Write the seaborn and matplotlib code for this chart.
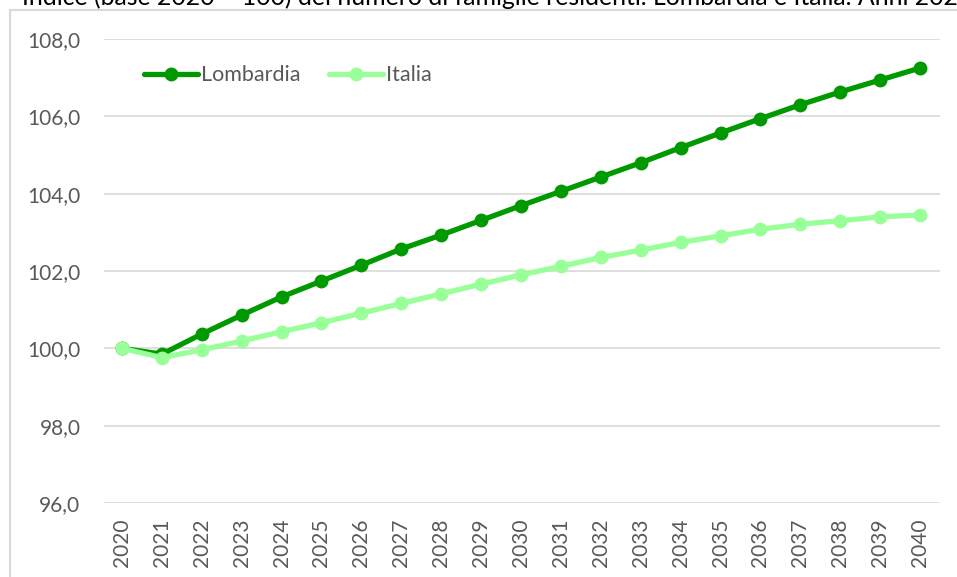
import pandas as pd
import seaborn as sns
import matplotlib.pyplot as plt
from matplotlib.patches import Rectangle
from matplotlib.ticker import FuncFormatter

# Indice (base 2020 = 100) del numero di famiglie residenti
anni = [str(a) for a in range(2020, 2041)]
lombardia = [100.0, 99.85, 100.37, 100.86, 101.33, 101.74, 102.15, 102.57, 102.93, 103.31,
             103.69, 104.06, 104.43, 104.80, 105.19, 105.57, 105.94, 106.30, 106.63, 106.94, 107.25]
italia = [100.0, 99.76, 99.96, 100.19, 100.43, 100.66, 100.91, 101.16, 101.41, 101.66,
          101.90, 102.12, 102.35, 102.54, 102.74, 102.91, 103.08, 103.21, 103.30, 103.40, 103.45]

df = pd.DataFrame({'anno': anni * 2,
                   'indice': lombardia + italia,
                   'area': ['Lombardia'] * len(anni) + ['Italia'] * len(anni)})

sns.set_theme(style='white')
plt.rcParams['font.family'] = ['Lato', 'DejaVu Sans']

fig = plt.figure(figsize=(9.57, 5.77), dpi=100)
ax = fig.add_axes([104 / 957, 1 - 503 / 577, 836 / 957, 464 / 577])

palette = {'Lombardia': '#009900', 'Italia': '#99ff99'}
sns.lineplot(data=df, x='anno', y='indice', hue='area', palette=palette,
             hue_order=['Lombardia', 'Italia'], marker='o', markersize=10,
             markeredgewidth=0, linewidth=3.8, sort=False, ax=ax)

ax.set_ylim(96, 108)
ax.set_yticks([96, 98, 100, 102, 104, 106, 108])
ax.yaxis.set_major_formatter(FuncFormatter(lambda v, p: f'{v:.1f}'.replace('.', ',')))
ax.set_xlim(-0.45, 20.5)
ax.grid(axis='y', color='#d9d9d9', linewidth=1.2)
ax.set_axisbelow(True)
for s in ax.spines.values():
    s.set_visible(False)
ax.tick_params(axis='y', length=0, pad=17, labelsize=15, labelcolor='#595959')
ax.tick_params(axis='x', length=0, pad=11, labelsize=15, labelcolor='#595959', labelrotation=90)
ax.set_xlabel('')
ax.set_ylabel('')

ax.legend(loc='upper left', bbox_to_anchor=(0.025, 0.985), ncol=2, frameon=False,
          fontsize=15.5, labelcolor='#595959', handlelength=2.5, handletextpad=0.15,
          columnspacing=1.3)

# riquadro del grafico e titolo tagliato in alto
fig.patches.append(Rectangle((10 / 957, -0.1), 1.2, 1.1 - 10 / 577, transform=fig.transFigure,
                             fill=False, edgecolor='#d9d9d9', linewidth=1.5))
fig.text(22 / 957, 1 - 5 / 577, 'Indice (base 2020 = 100) del numero di famiglie residenti. '
         'Lombardia e Italia. Anni 2020-2040', fontsize=17.9, color='black', va='baseline')
fig.text(17 / 957, 1 - 5 / 577, '3 –', fontsize=17.9, color='black', va='baseline', ha='right')

fig.savefig('out.png', dpi=100)
plt.close(fig)
